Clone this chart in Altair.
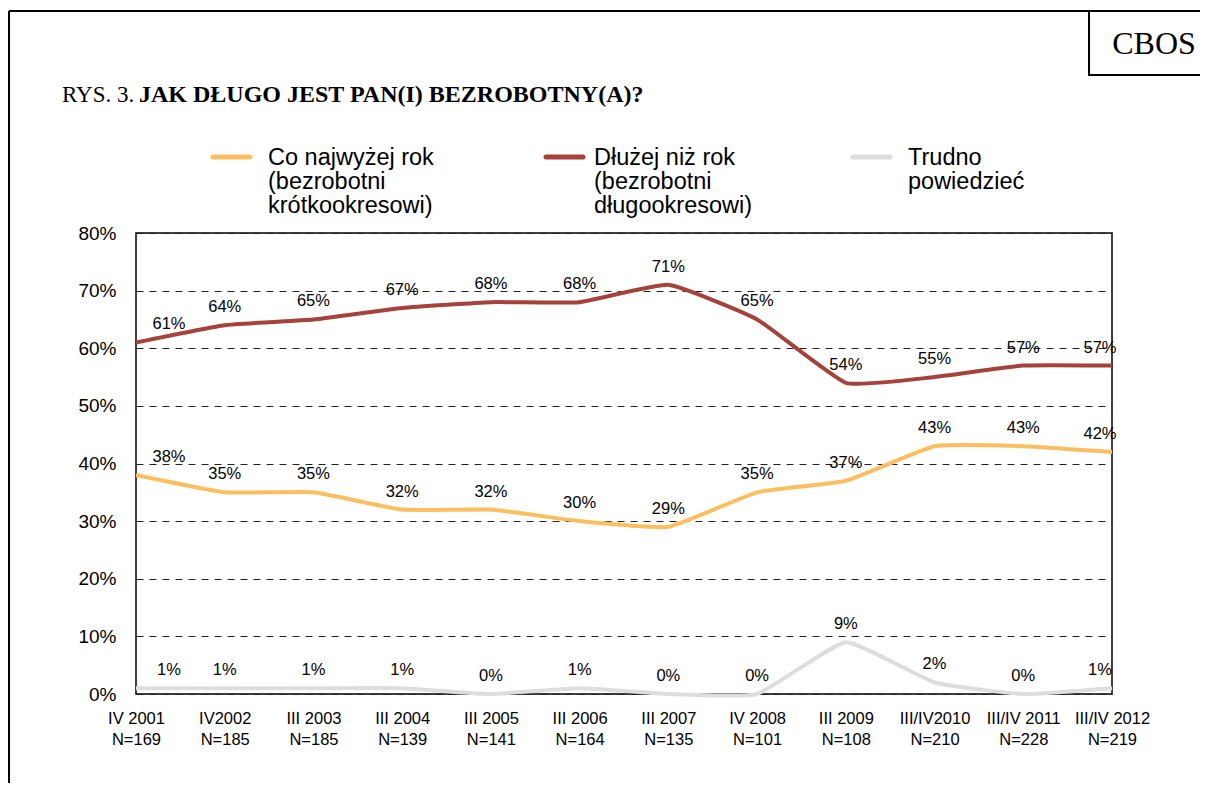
import altair as alt
import pandas as pd

periods = ["IV 2001|N=169", "IV2002|N=185", "III 2003|N=185", "III 2004|N=139",
           "III 2005|N=141", "III 2006|N=164", "III 2007|N=135", "IV 2008|N=101",
           "III 2009|N=108", "III/IV2010|N=210", "III/IV 2011|N=228", "III/IV 2012|N=219"]
short_term = [38, 35, 35, 32, 32, 30, 29, 35, 37, 43, 43, 42]
long_term = [61, 64, 65, 67, 68, 68, 71, 65, 54, 55, 57, 57]
hard_to_say = [1, 1, 1, 1, 0, 1, 0, 0, 9, 2, 0, 1]

series_names = ["Co najwyżej rok", "Dłużej niż rok", "Trudno powiedzieć"]
series_colors = ["#FDBE62", "#A5423B", "#DDDDDD"]
legend_lines = [["Co najwyżej rok", "(bezrobotni", "krótkookresowi)"],
                ["Dłużej niż rok", "(bezrobotni", "długookresowi)"],
                ["Trudno", "powiedzieć"]]

rows = []
for name, vals in zip(series_names, [short_term, long_term, hard_to_say]):
    for i, (p, v) in enumerate(zip(periods, vals)):
        rows.append({"period": p, "series": name, "value": v, "idx": i})
df = pd.DataFrame(rows)

FONT = "Liberation Sans"
SERIF = "Liberation Serif"
n = len(periods)

x_enc = alt.X("period:N", sort=periods,
              scale=alt.Scale(type="point", padding=0),
              axis=alt.Axis(title=None, labelAngle=0, ticks=False, domain=False,
                            labelExpr="split(datum.label, '|')", labelFontSize=16.5,
                            labelPadding=16, labelLineHeight=21, labelColor="black",
                            labelFont=FONT, grid=False))
y_enc = alt.Y("value:Q", scale=alt.Scale(domain=[0, 80]),
              axis=alt.Axis(title=None, values=[0, 10, 20, 30, 40, 50, 60, 70, 80],
                            labelExpr="datum.value + '%'", ticks=False, domain=False,
                            labelFontSize=19, labelPadding=20, labelColor="black",
                            labelFont=FONT, gridDash=[7, 6], gridColor="#222",
                            gridWidth=1))
color_enc = alt.Color("series:N", scale=alt.Scale(domain=series_names, range=series_colors),
                      legend=None)

base = alt.Chart(df).encode(x=x_enc, y=y_enc)

lines = base.mark_line(strokeWidth=4, interpolate="cardinal", tension=0.6).encode(
    color=color_enc, detail="series:N")

lab = base.transform_calculate(label="datum.value + '%'")
txt_kw = dict(fontSize=16.5, font=FONT, color="black", baseline="middle", dy=-18)
labels_first = lab.transform_filter(alt.datum.idx == 0).mark_text(dx=33, **txt_kw).encode(text="label:N")
labels_mid = lab.transform_filter((alt.datum.idx > 0) & (alt.datum.idx < n - 1)).mark_text(**txt_kw).encode(text="label:N")
labels_last = lab.transform_filter(alt.datum.idx == n - 1).mark_text(dx=-12, **txt_kw).encode(text="label:N")

one = pd.DataFrame({"a": [0]})
deco = []
# outer frame
deco.append(alt.Chart(one).mark_rule(color="black", strokeWidth=2).encode(
    x=alt.value(-127), y=alt.value(-222), y2=alt.value(560)))
deco.append(alt.Chart(one).mark_rule(color="black", strokeWidth=2).encode(
    x=alt.value(-127), x2=alt.value(1080), y=alt.value(-222)))
# CBOS box
deco.append(alt.Chart(one).mark_rect(fill="white", stroke="black", strokeWidth=2).encode(
    x=alt.value(953), x2=alt.value(1090), y=alt.value(-222), y2=alt.value(-158)))
deco.append(alt.Chart(one).mark_text(text="CBOS", font=SERIF, fontSize=32, color="black",
                                     align="center", baseline="middle").encode(
    x=alt.value(1018), y=alt.value(-189)))
# title
deco.append(alt.Chart(one).mark_text(text="RYS. 3.", font=SERIF, fontSize=23, color="black",
                                     align="left", baseline="middle").encode(
    x=alt.value(-74), y=alt.value(-138)))
deco.append(alt.Chart(one).mark_text(text="JAK DŁUGO JEST PAN(I) BEZROBOTNY(A)?", font=SERIF,
                                     fontSize=24, fontWeight="bold", color="black",
                                     align="left", baseline="middle").encode(
    x=alt.value(3), y=alt.value(-138)))
# legend
sym_x = [77, 410, 717]
txt_x = [132, 458, 772]
for sx, tx, col, lines_txt in zip(sym_x, txt_x, series_colors, legend_lines):
    deco.append(alt.Chart(one).mark_rule(color=col, strokeWidth=5, strokeCap="round").encode(
        x=alt.value(sx), x2=alt.value(sx + 37), y=alt.value(-76)))
    deco.append(alt.Chart(one).mark_text(text=lines_txt, font=FONT, fontSize=23.5, color="black",
                                         align="left", baseline="top", lineHeight=24).encode(
        x=alt.value(tx), y=alt.value(-87)))

chart = alt.layer(lines, labels_first, labels_mid, labels_last, *deco).properties(
    width=976, height=461,
    padding={"left": 128, "top": 225, "right": 88, "bottom": 89},
    autosize=alt.AutoSizeParams(type="none"),
    background="white",
).configure_view(stroke="black", strokeWidth=1.5)

chart.save("out.html", embed_options={"renderer": "svg", "actions": False})
